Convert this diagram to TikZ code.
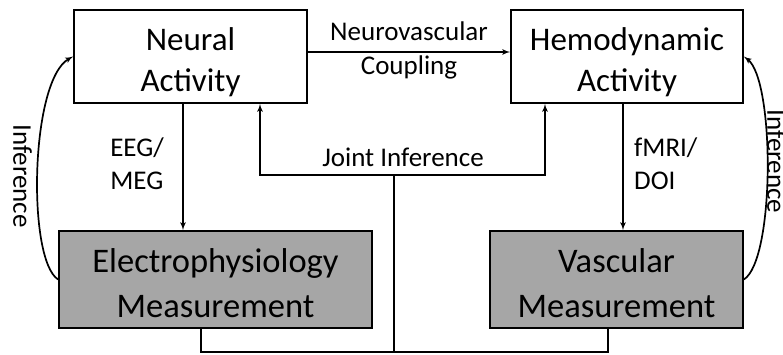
\documentclass[tikz,border=0pt]{standalone}
\usepackage{fontspec}
\setsansfont{Carlito}
\usepackage{tikz}
\usetikzlibrary{arrows}
\usetikzlibrary{positioning}
\tikzset{>=latex'}
\definecolor{measgray}{HTML}{A6A6A6}

\begin{document}
\begin{tikzpicture}[font=\sffamily,x=1pt,y=1pt,line width=1.7pt,
	actbox/.style={draw,align=center,minimum height=93pt,font=\sffamily\fontsize{33}{41}\selectfont},
	measbox/.style={draw,fill=measgray,align=center,minimum height=97pt,font=\sffamily\fontsize{34.5}{45}\selectfont},
	lbl/.style={font=\sffamily\fontsize{27}{33}\selectfont}]
	\useasboundingbox (0,0) rectangle (783,354);
	% activity and measurement boxes
	\node[actbox,minimum width=233pt] (neural) at (190.5,297.5) {\rule{0pt}{35pt}Neural\\Activity};
	\node[actbox,minimum width=232pt] (hemo) at (627,297.5) {\rule{0pt}{35pt}Hemodynamic\\Activity};
	\node[measbox,minimum width=313pt] (elec) at (215.5,74.5) {\rule{0pt}{31pt}Electrophysiology\\Measurement};
	\node[measbox,minimum width=253pt] (vasc) at (616.5,74.5) {\rule{0pt}{31pt}Vascular\\Measurement};
	% forward links
	\draw[->] ([yshift=4.5pt]neural.east) -- node[lbl,above=7pt]{Neurovascular} node[lbl,below]{Coupling} ([yshift=4.5pt]hemo.west);
	\draw[->] ([xshift=-7.5pt]neural.south) -- ([xshift=-32.5pt]elec.north);
	\draw[->] ([xshift=-4pt]hemo.south) -- ([xshift=6.5pt]vasc.north);
	\node[lbl,align=left,anchor=east] (eeg) at (168,190) {EEG/\\MEG};
	\node[lbl,align=left,anchor=west] (fmri) at (630,190) {fMRI/\\DOI};
	% joint inference
	\coordinate (joint) at (394,179);
	\coordinate (base) at (394,2);
	\draw[->] (joint) -| ([xshift=69.5pt]neural.south);
	\draw[->] (joint) -| ([xshift=-82pt]hemo.south);
	\draw (joint) -- (base);
	\draw ([xshift=-14.5pt]elec.south) |- (base) -| ([xshift=-8.5pt]vasc.south);
	\node[lbl,above=4pt of joint,xshift=9pt] (jointlbl) {Joint Inference};
	% separate inference
	\draw[->] (elec.west) .. controls (27,94) and (30,274) .. (neural.west);
	\draw[->] (vasc.east) .. controls (775,94) and (775,274) .. (hemo.east);
	\node[lbl,rotate=-90] (infl) at (22.5,178) {Inference};
	\node[lbl,rotate=-90] (infr) at (776.5,192.5) {Inference};
\end{tikzpicture}
\end{document}
